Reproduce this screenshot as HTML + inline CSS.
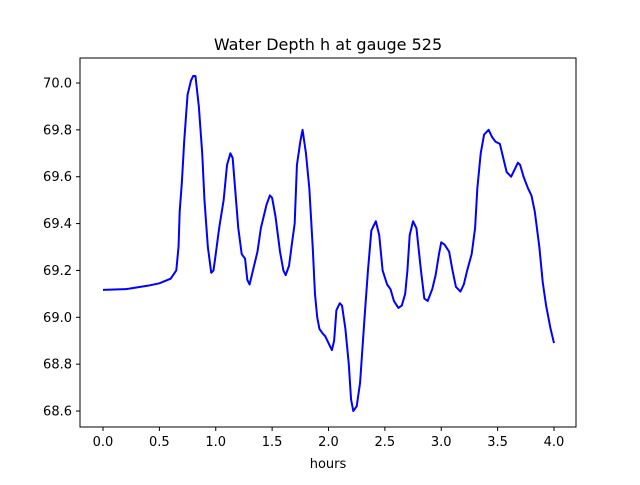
<!DOCTYPE html>
<html><head><meta charset="utf-8"><style>
body{margin:0;background:#fff}
text{font-family:"DejaVu Sans","Liberation Sans",sans-serif;fill:#000}
</style></head><body>
<svg id="chart" width="640" height="480" xmlns="http://www.w3.org/2000/svg">
<rect width="640" height="480" fill="#fff"/>
<text x="328" y="50" text-anchor="middle" font-size="16">Water Depth h at gauge 525</text>
<text x="328" y="468" text-anchor="middle" font-size="13">hours</text>
<g id="plot"></g>
<rect x="80" y="58" width="496" height="369" fill="none" stroke="#000" stroke-width="1"/>
</svg>
<script>
const times=[0,0.2,0.4,0.5,0.6,0.65,0.67,0.68,0.7,0.72,0.75,0.78,0.8,0.82,0.85,0.88,0.9,0.93,0.96,0.98,1.0,1.03,1.07,1.1,1.13,1.15,1.18,1.2,1.23,1.26,1.28,1.3,1.33,1.37,1.4,1.45,1.48,1.5,1.53,1.57,1.6,1.62,1.65,1.68,1.7,1.72,1.75,1.77,1.8,1.83,1.86,1.88,1.9,1.92,1.95,1.97,1.99,2.01,2.03,2.05,2.07,2.1,2.12,2.15,2.18,2.2,2.22,2.25,2.28,2.32,2.35,2.38,2.42,2.45,2.48,2.52,2.55,2.58,2.62,2.65,2.68,2.7,2.72,2.75,2.78,2.82,2.85,2.88,2.92,2.95,2.98,3.0,3.03,3.07,3.1,3.13,3.17,3.2,3.23,3.27,3.3,3.32,3.35,3.38,3.42,3.45,3.48,3.52,3.55,3.58,3.62,3.65,3.68,3.7,3.73,3.77,3.8,3.83,3.87,3.9,3.93,3.95,3.97,4.0];
const depths=[69.117,69.12,69.135,69.145,69.165,69.2,69.3,69.45,69.58,69.75,69.95,70.01,70.03,70.03,69.9,69.7,69.5,69.3,69.19,69.2,69.27,69.38,69.5,69.65,69.7,69.68,69.5,69.38,69.27,69.25,69.16,69.14,69.2,69.28,69.38,69.48,69.52,69.51,69.43,69.28,69.2,69.18,69.22,69.33,69.4,69.65,69.75,69.8,69.7,69.55,69.3,69.1,69.0,68.95,68.93,68.92,68.9,68.88,68.86,68.9,69.03,69.06,69.05,68.95,68.8,68.65,68.6,68.62,68.72,69.0,69.2,69.37,69.41,69.35,69.2,69.14,69.12,69.07,69.04,69.05,69.1,69.2,69.35,69.41,69.38,69.2,69.08,69.07,69.12,69.18,69.27,69.32,69.31,69.28,69.2,69.13,69.11,69.14,69.2,69.27,69.38,69.55,69.7,69.78,69.8,69.77,69.75,69.74,69.68,69.62,69.6,69.63,69.66,69.65,69.6,69.55,69.52,69.45,69.3,69.15,69.05,69.0,68.95,68.89];
const xTicks=[0,0.5,1,1.5,2,2.5,3,3.5,4];
const xTickLabels=["0.0","0.5","1.0","1.5","2.0","2.5","3.0","3.5","4.0"];
const yTicks=[68.6,68.8,69.0,69.2,69.4,69.6,69.8,70.0];
const yTickLabels=["68.6","68.8","69.0","69.2","69.4","69.6","69.8","70.0"];
const NS="http://www.w3.org/2000/svg";
const xs=v=>103+v*112.75;
const ys=v=>83+(70-v)*234.3;
const g=document.getElementById('plot');
function mk(t,a){const e=document.createElementNS(NS,t);for(const k in a)e.setAttribute(k,a[k]);return e;}
xTicks.forEach((v,i)=>{
  const l=mk('line',{x1:xs(v),x2:xs(v),y1:427,y2:431,stroke:'#000'});
  
  
  g.appendChild(l);
  const t=mk('text',{x:xs(v),y:446,'text-anchor':'middle','font-size':13});
  
  
  t.textContent=xTickLabels[i];g.appendChild(t);
});
yTicks.forEach((v,i)=>{
  const l=mk('line',{x1:76,x2:80,y1:ys(v),y2:ys(v),stroke:'#000'});
  
  
  g.appendChild(l);
  const t=mk('text',{x:72,y:ys(v)+4.5,'text-anchor':'end','font-size':13});
  
  
  t.textContent=yTickLabels[i];g.appendChild(t);
});
const p=mk('polyline',{points:times.map((t,i)=>xs(t)+','+ys(depths[i])).join(' '),fill:'none',stroke:'#0000ff','stroke-width':2,'stroke-linejoin':'round'});


g.appendChild(p);
</script>
</body></html>
